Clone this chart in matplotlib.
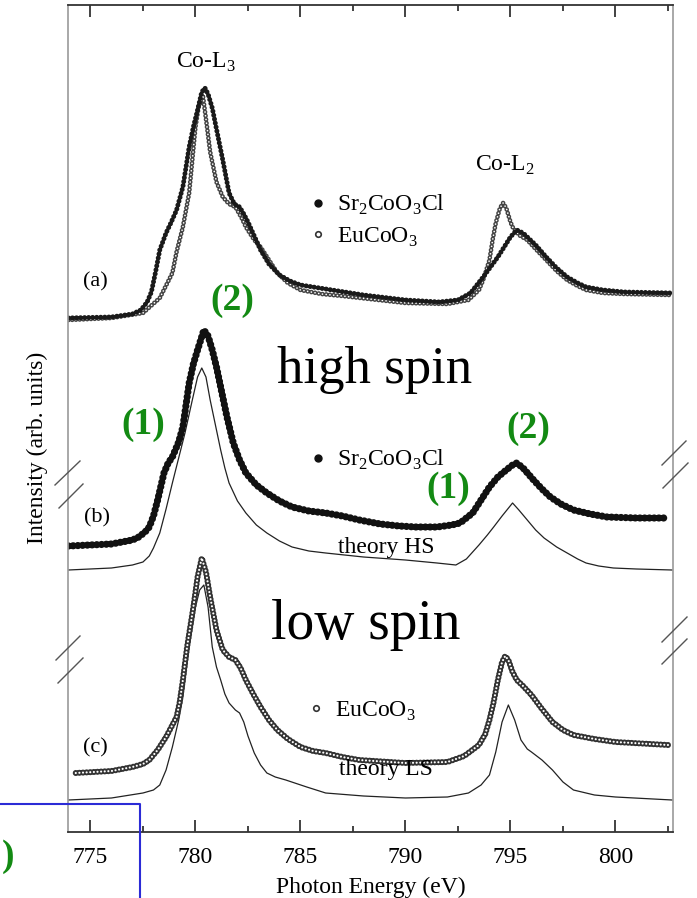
import numpy as np
import matplotlib
matplotlib.use("Agg")
import matplotlib.pyplot as plt
from matplotlib.lines import Line2D
from matplotlib.legend import Legend
from matplotlib.ticker import MultipleLocator

plt.rcParams["font.family"] = ["Liberation Serif", "DejaVu Serif"]
plt.rcParams["mathtext.fontset"] = "custom"
plt.rcParams["mathtext.rm"] = "Liberation Serif"
plt.rcParams["lines.scale_dashes"] = False

# ---- data (energy in eV, intensity in arb. units incl. panel offset) ----
e_a_sr = [773.95, 776.0, 777.0, 777.4, 777.7, 777.9, 778.1, 778.3, 778.6, 778.85, 779.1, 779.4,
          779.7, 779.9, 780.1, 780.3, 780.45, 780.6, 780.8, 781.0, 781.3, 781.6, 781.85, 782.1,
          782.3, 782.5, 782.8, 783.1, 783.5, 784.0, 784.5, 785.0, 786.5, 788.0, 790.0, 791.6,
          792.5, 793.1, 793.7, 794.4, 795.0, 795.3, 795.6, 795.8, 796.2, 796.7, 797.2, 797.7,
          798.2, 798.6, 799.4, 800.4, 802.6]
i_a_sr = [514, 515, 518, 522, 530, 540, 560, 582, 599, 610, 622, 645,
          685, 705, 722, 740, 744, 738, 724, 703, 672, 639, 628, 625,
          618, 610, 596, 582, 568, 557, 551, 547, 542, 537, 532, 530,
          532, 539, 555, 575, 595, 602, 599, 595, 587, 575, 564, 555,
          549, 545, 542, 540, 539]

e_a_eu = [773.95, 776.0, 777.5, 778.3, 778.9, 779.1, 779.4, 779.7, 779.85, 780.0, 780.15, 780.35,
          780.55, 780.7, 781.0, 781.3, 781.6, 781.9, 782.2, 782.4, 782.8, 783.1, 783.5, 783.9,
          784.4, 785.0, 786.0, 787.0, 790.0, 792.0, 793.0, 793.5, 793.7, 794.0, 794.15, 794.3,
          794.5, 794.65, 794.8, 795.0, 795.1, 795.4, 795.8, 796.2, 796.7, 797.2, 797.7, 798.2,
          798.6, 799.4, 800.4, 802.6]
i_a_eu = [512, 514, 519, 534, 559, 580, 605, 639, 672, 705, 725, 737,
          705, 680, 650, 635, 628, 625, 614, 605, 592, 585, 572, 559,
          549, 542, 538, 536, 529, 528, 532, 542, 552, 572, 592, 609,
          624, 629, 624, 610, 605, 597, 592, 583, 572, 561, 552, 546,
          542, 539, 538, 537]

e_b_sr = [773.95, 776.0, 777.0, 777.3, 777.6, 777.8, 778.0, 778.2, 778.5, 778.7, 778.9, 779.2,
          779.4, 779.7, 779.9, 780.1, 780.4, 780.6, 780.8, 781.0, 781.2, 781.5, 781.8, 782.1,
          782.4, 782.9, 783.4, 784.0, 784.6, 785.4, 786.2, 787.0, 787.8, 788.8, 789.7, 790.5,
          791.5, 792.2, 792.6, 793.2, 793.6, 794.0, 794.4, 794.8, 795.1, 795.3, 795.6, 796.1,
          796.5, 796.9, 797.4, 798.0, 798.8, 799.6, 801.0, 802.3]
i_b_sr = [286, 288, 292, 295, 300, 305, 316, 332, 359, 369, 375, 390,
          405, 449, 468, 482, 502, 496, 482, 465, 445, 415, 389, 372,
          359, 347, 339, 331, 325, 321, 319, 316, 312, 308, 306, 305,
          305, 307, 309, 319, 332, 345, 355, 362, 367, 369, 364, 352,
          343, 335, 328, 322, 318, 315, 314, 314]

e_hs = [773.95, 776.0, 777.0, 777.5, 777.8, 778.0, 778.3, 778.6, 778.9, 779.2, 779.5, 779.85,
        780.1, 780.3, 780.5, 780.7, 781.0, 781.2, 781.4, 781.6, 782.0, 782.4, 782.9, 783.4,
        784.0, 784.6, 785.4, 786.2, 788.0, 790.0, 791.5, 792.4, 792.9, 793.5, 793.9, 794.2,
        794.6, 795.1, 795.4, 795.8, 796.2, 796.6, 797.2, 797.7, 798.2, 798.6, 799.2, 799.9,
        801.0, 802.7]
i_hs = [262, 264, 267, 270, 276, 284, 299, 323, 349, 374, 399, 432,
        455, 464, 455, 432, 402, 382, 364, 349, 331, 319, 307, 299,
        291, 285, 281, 279, 275, 272, 269, 267, 273, 287, 297, 305,
        316, 329, 322, 312, 302, 294, 285, 279, 273, 269, 266, 264,
        263, 262]

e_c_eu = [774.3, 776.0, 777.0, 777.5, 777.8, 778.2, 778.6, 779.1, 779.25, 779.4, 779.6, 779.9,
          780.1, 780.3, 780.5, 780.7, 781.0, 781.3, 781.6, 781.9, 782.15, 782.4, 782.75, 783.1,
          783.5, 783.9, 784.4, 785.0, 785.6, 786.2, 787.0, 787.8, 790.0, 792.0, 792.8, 793.5,
          793.8, 794.0, 794.2, 794.4, 794.6, 794.75, 794.9, 795.1, 795.3, 795.6, 796.0, 796.5,
          797.0, 797.5, 798.0, 799.0, 800.0, 802.5]
i_c_eu = [59, 61, 65, 68, 72, 82, 95, 115, 130, 152, 185, 225,
          255, 274, 260, 235, 202, 182, 175, 172, 164, 152, 138, 125,
          112, 102, 93, 85, 81, 79, 75, 72, 69, 70, 76, 87,
          98, 112, 130, 152, 170, 176, 172, 160, 152, 146, 137, 123,
          110, 102, 97, 93, 90, 87]

e_ls = [773.95, 776.0, 777.5, 778.0, 778.3, 778.6, 778.9, 779.2, 779.4, 779.7, 780.0, 780.2,
        780.4, 780.6, 780.8, 781.0, 781.2, 781.4, 781.6, 781.9, 782.1, 782.3, 782.5, 782.8,
        783.1, 783.4, 783.8, 784.3, 785.3, 786.2, 788.0, 790.0, 792.0, 793.0, 793.6, 794.0,
        794.3, 794.6, 794.9, 795.2, 795.5, 795.8, 796.0, 796.5, 797.0, 797.5, 798.0, 799.0,
        800.0, 802.7]
i_ls = [32, 34, 39, 42, 47, 62, 85, 112, 135, 185, 225, 242,
        247, 225, 185, 165, 152, 138, 129, 122, 119, 110, 96, 79,
        67, 59, 55, 52, 45, 39, 36, 34, 35, 39, 47, 57,
        80, 110, 127, 112, 92, 83, 80, 72, 62, 50, 42, 37,
        35, 32]

xticks = [775, 780, 785, 790, 795, 800]

W, H = 697, 898
def fx(px): return px / W
def fy(py): return 1 - py / H

fig = plt.figure(figsize=(W / 100, H / 100), dpi=100)
ax = fig.add_axes([fx(68), fy(832), 605 / W, 827 / H])
ax.set_xlim(773.93, 802.74)
ax.set_ylim(0, 827)

GREEN = "#138a13"

def filled(x, y, lw, gap, color="#111111"):
    ax.plot(x, y, ls=(0, (0.01, gap)), lw=lw, color=color, dash_capstyle="round")

def hollow(x, y, lw, gap, color="#2a2a2a"):
    ax.plot(x, y, ls=(0, (0.01, gap)), lw=lw, color=color, dash_capstyle="round")
    ax.plot(x, y, ls=(0, (0.01, gap)), lw=lw * 0.36, color="white", dash_capstyle="round")

# (a)
hollow(e_a_eu, i_a_eu, 3.4, 2.7, "#444444")
filled(e_a_sr, i_a_sr, 3.6, 2.9, "#1a1a1a")
# (b)
ax.plot(e_hs, i_hs, color="#222222", lw=0.9)
filled(e_b_sr, i_b_sr, 5.2, 3.4)
# (c)
ax.plot(e_ls, i_ls, color="#222222", lw=0.9)
hollow(e_c_eu, i_c_eu, 4.4, 2.6, "#333333")

# axes styling
ax.set_yticks([])
ax.set_xticks(xticks)
ax.xaxis.set_minor_locator(MultipleLocator(2.5))
ax.tick_params(axis="x", which="both", direction="in", top=True, labeltop=False,
               labelsize=17, pad=11, color="#222222", width=1.2)
ax.tick_params(axis="x", which="major", length=8.5)
ax.tick_params(axis="x", which="minor", length=4)
for s in ("left", "right"):
    ax.spines[s].set_color("#9a9a9a")
    ax.spines[s].set_linewidth(1.2)
for s in ("top", "bottom"):
    ax.spines[s].set_color("#333333")
    ax.spines[s].set_linewidth(1.3)
ax.set_xlabel("Photon Energy (eV)", fontsize=17, labelpad=6)
fig.text(fx(37), fy(448), "Intensity (arb. units)", rotation=90, ha="center", va="center",
         fontsize=17)

# axis break marks
breaks = [((55, 485), (80, 461)), ((59, 508), (83, 484)),
          ((56, 660), (80, 636)), ((58, 683), (83, 658)),
          ((662, 465), (686, 441)), ((663, 488), (688, 463)),
          ((662, 642), (687, 617)), ((662, 664), (687, 639))]
for (x0, y0), (x1, y1) in breaks:
    fig.add_artist(Line2D([fx(x0), fx(x1)], [fy(y0), fy(y1)], color="#555555", lw=1.0))

# labels
def t(px, py, s, size=17, **kw):
    fig.text(fx(px), fy(py), s, ha="center", va="center", fontsize=size, **kw)

t(206, 62, r"Co-L$_3$")
t(505, 165, r"Co-L$_2$")
t(95, 282, "(a)", 16)
t(97, 518, "(b)", 16)
t(95, 748, "(c)", 16)
t(386, 548, "theory HS", 17)
t(386, 770, "theory LS", 17)
t(375, 370, "high spin", 38)
t(366, 625, "low spin", 40)
for px, py, s in [(232, 300, "(2)"), (143, 425, "(1)"), (528, 428, "(2)"), (448, 488, "(1)")]:
    t(px, py, s, 27, color=GREEN, fontweight="bold")

# legends
h_sr = Line2D([], [], ls="", marker="o", ms=5, color="#111111")
h_eu = Line2D([], [], ls="", marker="o", ms=4, mfc="white", mec="#333333", mew=1.2)
def ax_xy(px, py): return ((px - 68) / 605, (832 - py) / 827)
for handles, labels, (px, py) in [
        ([h_sr, h_eu], [r"Sr$_2$CoO$_3$Cl", r"EuCoO$_3$"], (306, 221)),
        ([h_sr], [r"Sr$_2$CoO$_3$Cl"], (306, 460)),
        ([h_eu], [r"EuCoO$_3$"], (304, 711))]:
    leg = Legend(ax, handles, labels, loc="center left", bbox_to_anchor=ax_xy(px, py),
                 frameon=False, fontsize=17, borderpad=0, borderaxespad=0, handlelength=1.0,
                 handletextpad=0.3, labelspacing=0.35)
    ax.add_artist(leg)

# slide overlay remnants: blue frame and the edge of a green label
fig.add_artist(Line2D([fx(0), fx(140), fx(140)], [fy(804), fy(804), fy(898)],
                      color="#2b2bd6", lw=1.5))
fig.text(fx(2), fy(857), ")", ha="left", va="center", fontsize=27,
         color=GREEN, fontweight="bold")

fig.savefig("out.png", dpi=100)
